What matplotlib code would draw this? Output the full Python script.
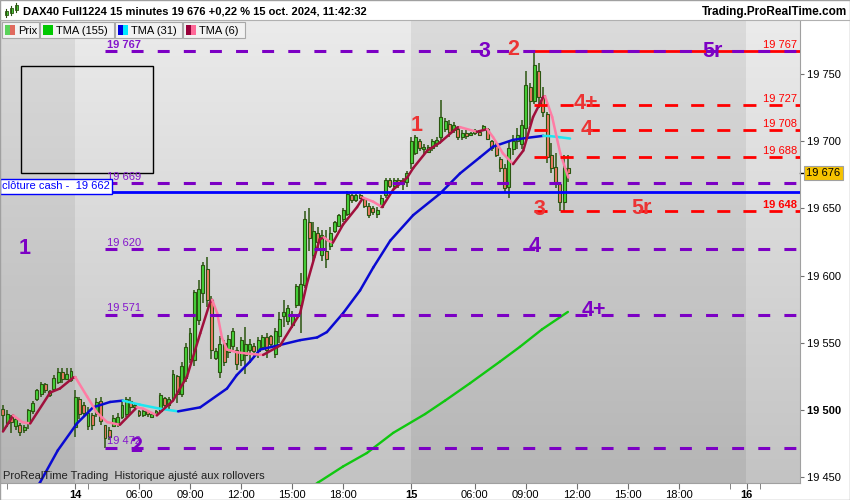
import numpy as np
import matplotlib.pyplot as plt
import matplotlib.transforms as mtransforms
from matplotlib.collections import LineCollection
from matplotlib.colors import LinearSegmentedColormap
from matplotlib.patches import Rectangle
from matplotlib.lines import Line2D

plt.rcParams['font.family'] = ['Liberation Sans', 'DejaVu Sans']
plt.rcParams['font.size'] = 8
plt.rcParams['lines.scale_dashes'] = False

# DAX40 Full1224, 15 min bars: Fri 11 oct 17:45 -> Tue 15 oct 11:30 (x = bar index)
opens = [19501, 19490, 19495, 19488, 19489, 19485, 19490, 19499, 19508, 19512,
         19519, 19514, 19516, 19521, 19528, 19523, 19522, 19487, 19508, 19504,
         19488, 19496, 19497, 19507, 19489, 19485, 19488, 19490, 19495, 19497,
         19507, 19502, 19499, 19496, 19499, 19495, 19497, 19499, 19509, 19504,
         19509, 19525, 19512, 19524, 19538, 19537, 19567, 19587, 19605, 19582,
         19539, 19528, 19550, 19543, 19548, 19545, 19537, 19541, 19545, 19548,
         19544, 19547, 19554, 19555, 19542, 19555, 19570, 19566, 19563, 19578,
         19578, 19593, 19640, 19615, 19632, 19615, 19618, 19622, 19633, 19637,
         19642, 19646, 19660, 19656, 19660, 19657, 19652, 19650, 19646, 19651,
         19660, 19671, 19667, 19671, 19668, 19670, 19684, 19691, 19700, 19694,
         19692, 19695, 19699, 19703, 19709, 19713, 19708, 19709, 19703, 19706,
         19705, 19706, 19707, 19709, 19709, 19700, 19697, 19687, 19680, 19666,
         19694, 19700, 19698, 19710, 19740, 19730, 19752, 19733, 19720, 19690,
         19681, 19668, 19655, 19680]
highs = [19504, 19500, 19496, 19495, 19490, 19489, 19501, 19507, 19516, 19521,
         19520, 19515, 19526, 19531, 19531, 19531, 19531, 19515, 19510, 19506,
         19502, 19498, 19509, 19510, 19489, 19487, 19496, 19498, 19506, 19510,
         19510, 19505, 19500, 19501, 19500, 19498, 19500, 19513, 19510, 19510,
         19530, 19526, 19536, 19550, 19561, 19589, 19597, 19610, 19614, 19585,
         19546, 19555, 19552, 19556, 19561, 19547, 19554, 19562, 19553, 19550,
         19554, 19556, 19557, 19556, 19561, 19573, 19582, 19578, 19574, 19594,
         19602, 19648, 19650, 19640, 19636, 19634, 19634, 19636, 19641, 19646,
         19650, 19663, 19661, 19661, 19661, 19658, 19654, 19652, 19651, 19660,
         19673, 19673, 19673, 19673, 19673, 19678, 19703, 19705, 19702, 19698,
         19697, 19702, 19703, 19731, 19717, 19716, 19714, 19711, 19708, 19708,
         19707, 19709, 19708, 19712, 19710, 19701, 19699, 19688, 19683, 19700,
         19705, 19710, 19716, 19752, 19743, 19767, 19758, 19740, 19722, 19699,
         19691, 19670, 19690, 19690]
lows = [19484, 19487, 19483, 19485, 19481, 19483, 19486, 19497, 19507, 19510,
        19513, 19510, 19515, 19519, 19520, 19522, 19521, 19480, 19493, 19495,
        19485, 19485, 19495, 19489, 19472, 19478, 19487, 19487, 19493, 19495,
        19498, 19500, 19495, 19495, 19495, 19494, 19496, 19498, 19502, 19501,
        19507, 19505, 19510, 19521, 19535, 19533, 19563, 19580, 19577, 19538,
        19537, 19524, 19533, 19539, 19545, 19530, 19533, 19527, 19535, 19539,
        19539, 19545, 19539, 19546, 19539, 19550, 19562, 19563, 19561, 19576,
        19557, 19591, 19618, 19610, 19619, 19611, 19606, 19619, 19632, 19636,
        19640, 19644, 19654, 19655, 19657, 19650, 19643, 19645, 19643, 19650,
        19658, 19665, 19665, 19665, 19664, 19666, 19679, 19690, 19693, 19690,
        19691, 19693, 19696, 19700, 19707, 19703, 19706, 19701, 19701, 19702,
        19704, 19705, 19704, 19708, 19701, 19693, 19688, 19677, 19662, 19658,
        19690, 19694, 19694, 19700, 19712, 19728, 19725, 19718, 19684, 19676,
        19665, 19648, 19648, 19670]
closes = [19496, 19497, 19491, 19493, 19484, 19487, 19500, 19505, 19515, 19519,
          19515, 19511, 19524, 19528, 19523, 19527, 19529, 19510, 19497, 19498,
          19498, 19489, 19506, 19492, 19479, 19480, 19494, 19495, 19504, 19508,
          19502, 19504, 19496, 19499, 19497, 19497, 19499, 19511, 19504, 19508,
          19527, 19512, 19533, 19547, 19557, 19588, 19590, 19608, 19582, 19545,
          19544, 19549, 19536, 19553, 19559, 19534, 19552, 19549, 19549, 19544,
          19552, 19554, 19545, 19549, 19559, 19568, 19573, 19576, 19570, 19592,
          19594, 19642, 19628, 19633, 19625, 19630, 19612, 19632, 19640, 19645,
          19649, 19661, 19656, 19660, 19658, 19652, 19645, 19647, 19649, 19658,
          19671, 19667, 19671, 19668, 19671, 19676, 19700, 19703, 19695, 19696,
          19696, 19700, 19701, 19718, 19715, 19707, 19712, 19703, 19706, 19704,
          19706, 19708, 19705, 19711, 19702, 19695, 19690, 19680, 19665, 19695,
          19700, 19705, 19712, 19742, 19730, 19757, 19733, 19722, 19688, 19680,
          19670, 19655, 19680, 19676]

# moving averages: (bar index, price)
tma6_pts = [(0, 19484), (2.4, 19496), (4.5, 19491), (6.4, 19490), (11.1, 19513),
            (13.4, 19516), (16.5, 19524), (17.0, 19524.5), (19.8, 19510), (22.1, 19498),
            (24.5, 19491), (27.5, 19489), (31.5, 19502), (33.0, 19501), (36.2, 19496),
            (40.0, 19507), (43.3, 19525), (46.4, 19557), (48.7, 19580), (49.2, 19582),
            (50.4, 19572), (51.5, 19554), (52.7, 19545), (55.0, 19543), (57.4, 19542),
            (61.2, 19541), (65.2, 19548), (69.9, 19572), (71.5, 19594), (73.3, 19614),
            (74.5, 19627), (75.5, 19628.5), (76.5, 19626), (77.6, 19624.5), (80.0, 19638),
            (83.3, 19651), (84.7, 19658), (87.1, 19655), (89.2, 19651), (91.8, 19664),
            (95.1, 19673), (96.5, 19680), (99.8, 19693), (102.8, 19699), (106.8, 19710),
            (107.5, 19710.5), (111.5, 19707), (113.9, 19709), (115.3, 19703), (117.6, 19691),
            (120.0, 19683), (122.4, 19693), (124.7, 19718), (127.1, 19733), (127.5, 19733.5),
            (129.2, 19718), (131.1, 19691), (133.0, 19673)]
tma31_pts = [(7.5, 19440), (8.7, 19446), (12.9, 19470), (17.4, 19490), (21.2, 19502),
             (25.2, 19506), (28.2, 19507), (32.2, 19504), (36.9, 19501), (41.2, 19499),
             (46.4, 19502), (52.7, 19516), (55.0, 19526), (58.1, 19536), (60.5, 19545),
             (63.3, 19547), (69.9, 19552), (73.9, 19554), (76.2, 19558), (80.0, 19572),
             (84.0, 19589), (87.1, 19606), (91.1, 19626), (96.5, 19645), (102.8, 19661),
             (107.5, 19676), (112.2, 19688), (115.3, 19696), (120.0, 19701), (123.3, 19702.5),
             (127.1, 19704), (128.7, 19703.8), (131.0, 19703), (133.4, 19702)]
tma155_pts = [(69.9, 19437), (74.1, 19446), (80.0, 19458), (85.6, 19468), (91.8, 19483),
              (99.3, 19497), (104.0, 19507), (109.9, 19520), (116.9, 19536), (121.6, 19547),
              (126.8, 19560), (132.9, 19573)]

purple_levels = [19767, 19669, 19620, 19571, 19472]
red_levels = [19767, 19727, 19708, 19688, 19648]
cash_close = 19662
last_price = 19676
purple_start = 24   # bar of the 19 472 low
red_start = 125     # bar of the 19 767 high

purple_waves = [('1', 5.2, 19620), ('2', 31.3, 19472.5), ('3', 113.2, 19767),
                ('4', 125.0, 19622), ('4+', 139.0, 19574), ('5r', 166.8, 19767)]
red_waves = [('1', 97.2, 19712), ('2', 120.0, 19768), ('3', 126.1, 19649),
             ('4', 137.2, 19709), ('4+', 137.2, 19727.7), ('5r', 150.1, 19650)]
drawn_box = (4.2, 19676.3, 35.3, 19756)

xtick_pos = [17, 32, 44, 56, 68, 80, 96, 111, 123, 135, 147, 159, 175]
xtick_lab = ['14', '06:00', '09:00', '12:00', '15:00', '18:00', '15',
             '06:00', '09:00', '12:00', '15:00', '18:00', '16']
xminor_pos = [1, 20, 171, 178]
day_starts = [17, 96, 175]
yticks = [19450, 19500, 19550, 19600, 19650, 19700, 19750]

PURPLE = '#7c00c4'
RED = '#ff0000'
WICK = '#2b5510'


def fmt(v):
    return '{:,}'.format(int(v)).replace(',', ' ')


def two_tone(ax, pts, up_col, dn_col, lw, z=5):
    p = np.array(pts, dtype=float)
    segs = np.stack([p[:-1], p[1:]], axis=1)
    cols = [up_col if b[1] >= a[1] else dn_col for a, b in zip(p[:-1], p[1:])]
    ax.add_collection(LineCollection(segs, colors=cols, linewidths=lw,
                                     capstyle='round', zorder=z))


fig = plt.figure(figsize=(8.5, 5.0), dpi=100)
ax = fig.add_axes([0, 17 / 500, 800 / 850, 463 / 500])
x0, x1 = -0.7, 187.5
y0, y1 = 19445.7, 19790.2

# background: vertical gradient + alternating day shading
cmap = LinearSegmentedColormap.from_list('bg', ['#ebebeb', '#c3c3c3'])
ax.imshow(np.linspace(0, 1, 256)[:, None], cmap=cmap, aspect='auto',
          extent=[x0, x1, y0, y1], origin='upper', zorder=0)
ax.axvspan(x0, day_starts[0] - 0.1, color='black', alpha=0.065, lw=0, zorder=0.5)
ax.axvspan(day_starts[1] - 0.1, day_starts[2] - 0.1, color='black', alpha=0.065, lw=0, zorder=0.5)

# candles
o = np.array(opens, float)
h = np.array(highs, float)
l = np.array(lows, float)
c = np.array(closes, float)
idx = np.arange(len(c))
up = c >= o
ax.vlines(idx, l, h, color=WICK, lw=1.1, zorder=3)
body = np.maximum(np.abs(c - o), 0.8)
ax.bar(idx, body, bottom=np.minimum(o, c), width=0.7,
       color=np.where(up, '#46d23a', '#ef7b66'), edgecolor=WICK, linewidth=0.8, zorder=4)

# moving averages
two_tone(ax, tma155_pts, '#10c810', '#10c810', 1.7)
two_tone(ax, tma31_pts, '#0a0ad2', '#1ee6f0', 1.8)
two_tone(ax, tma6_pts, '#a0103c', '#ff7ca4', 1.8)

# horizontal levels
ax.axhline(cash_close, color='#0000ff', lw=2.0, zorder=6)
for lv in red_levels:
    if lv == 19767:
        ax.plot([red_start, x1], [lv, lv], color=RED, lw=2.0, zorder=6)
    else:
        ax.plot([red_start, x1], [lv, lv], color=RED, lw=2.0,
                linestyle=(0, (9.4, 9.4)), zorder=6)
    ax.text(186.8, lv + 4.6, fmt(lv), color=RED, ha='right', va='center', fontsize=8,
            fontweight='bold' if lv == 19648 else 'normal', zorder=8)
for lv in purple_levels:
    ax.plot([purple_start, x1], [lv, lv], color=PURPLE, lw=2.2,
            linestyle=(0, (8.6, 10.2)), zorder=6.5)
    ax.text(purple_start + 0.4, lv + 4.6, fmt(lv), color='#8416cc', ha='left', va='center',
            fontsize=8, fontweight='bold' if lv == 19767 else 'normal', zorder=8)

# wave counts
for t, xx, yy in purple_waves:
    ax.text(xx, yy, t, color=PURPLE, fontsize=15.5, fontweight='bold',
            ha='center', va='center', zorder=7.5)
for t, xx, yy in red_waves:
    ax.text(xx, yy, t, color='#ec3434', fontsize=15.5, fontweight='bold',
            ha='center', va='center', zorder=9)

# drawn rectangle
bx0, by0, bx1, by1 = drawn_box
ax.add_patch(Rectangle((bx0, by0), bx1 - bx0, by1 - by0, fill=False,
                       ec='black', lw=1.0, zorder=7))

# cash close label
ax.text(0.0025, cash_close + 4.6, 'clôture cash -  ' + fmt(cash_close),
        transform=mtransforms.blended_transform_factory(ax.transAxes, ax.transData),
        color='#0000ff', fontsize=8, ha='left', va='center', zorder=9,
        bbox=dict(boxstyle='square,pad=0.22', fc='white', ec='#0000ff', lw=1.0))

# axes
ax.set_xlim(x0, x1)
ax.set_ylim(y0, y1)
ax.yaxis.tick_right()
ax.set_yticks(yticks)
ax.set_yticklabels([fmt(v) for v in yticks])
ax.set_xticks(xtick_pos)
ax.set_xticklabels(xtick_lab)
ax.set_xticks(xminor_pos, minor=True)
ax.tick_params(axis='y', direction='out', length=3, pad=2, color='#707070', labelsize=8)
ax.tick_params(axis='x', which='both', direction='out', length=4, pad=1,
               color='#707070', labelsize=8)
for lab in ax.get_xticklabels():
    if lab.get_text() in ('14', '15', '16'):
        lab.set_fontweight('bold')
for lab in ax.get_yticklabels():
    if lab.get_text() == '19 500':
        lab.set_fontweight('bold')
for s in ('top', 'left'):
    ax.spines[s].set_visible(False)
for s in ('right', 'bottom'):
    ax.spines[s].set_color('#a0a0a0')

# last price tag
bt = mtransforms.blended_transform_factory(ax.transAxes, ax.transData)
ax.plot([1.0, 1.005], [last_price, last_price], color='black', lw=1, transform=bt, clip_on=False)
ax.text(1.008, last_price, fmt(last_price), transform=bt, fontsize=8, ha='left', va='center',
        bbox=dict(boxstyle='square,pad=0.18', fc='#f6c300', ec='#a0a0a0', lw=0.8))

# header
def fpx(x, y):
    return x / 850, 1 - y / 500

fig.patches.append(Rectangle(fpx(0, 20), 1, 20 / 500, transform=fig.transFigure,
                             fc='white', ec='none', zorder=1))
fig.lines.append(Line2D([0, 1], [1 - 20 / 500] * 2, transform=fig.transFigure,
                        color='#b0b0b0', lw=0.8))
for cx, yt, yb, bt0, bb0 in [(6, 9, 17, 11, 15), (11, 6, 15, 8, 13), (16, 3, 12, 5, 10)]:
    fig.lines.append(Line2D([cx / 850] * 2, [1 - yt / 500, 1 - yb / 500],
                            transform=fig.transFigure, color=WICK, lw=0.8))
    fig.patches.append(Rectangle(fpx(cx - 1.5, bb0), 3 / 850, (bb0 - bt0) / 500,
                                 transform=fig.transFigure, fc='#46d23a', ec=WICK, lw=0.6))
fig.text(*fpx(23, 12), 'DAX40 Full1224 15 minutes 19 676 +0,22 % 15 oct. 2024, 11:42:32',
         fontsize=8, fontweight='bold', va='center', ha='left')
fig.text(*fpx(847, 12), 'Trading.ProRealTime.com', fontsize=8.5, fontweight='bold',
         va='center', ha='right')

# legend boxes
legend_items = [('Prix', 2, 39, '#5ad25a', '#e06a5e'),
                ('TMA (155)', 40, 114, '#00c800', '#00c800'),
                ('TMA (31)', 115, 182, '#0000e0', '#00e8ff'),
                ('TMA (6)', 183, 245, '#98003a', '#ff6898')]
for name, bx, ex, c1, c2 in legend_items:
    fig.patches.append(Rectangle(fpx(bx, 38), (ex - bx) / 850, 16 / 500,
                                 transform=fig.transFigure, fc='#f2f2f2', ec='#a8a8a8', lw=0.8))
    fig.patches.append(Rectangle(fpx(bx + 3, 35), 5 / 850, 10 / 500,
                                 transform=fig.transFigure, fc=c1, ec='none'))
    fig.patches.append(Rectangle(fpx(bx + 8, 35), 5 / 850, 10 / 500,
                                 transform=fig.transFigure, fc=c2, ec='none'))
    fig.text(*fpx(bx + 16, 30.5), name, fontsize=8, va='center', ha='left')

fig.text(*fpx(3, 476), 'ProRealTime Trading  Historique ajusté aux rollovers',
         fontsize=8, va='center', ha='left', color='#202020')
fig.patches.append(Rectangle((0, 0), 1, 1, transform=fig.transFigure, fill=False,
                             ec='#a0a0a0', lw=1.0))

fig.savefig('out.png', dpi=100)
